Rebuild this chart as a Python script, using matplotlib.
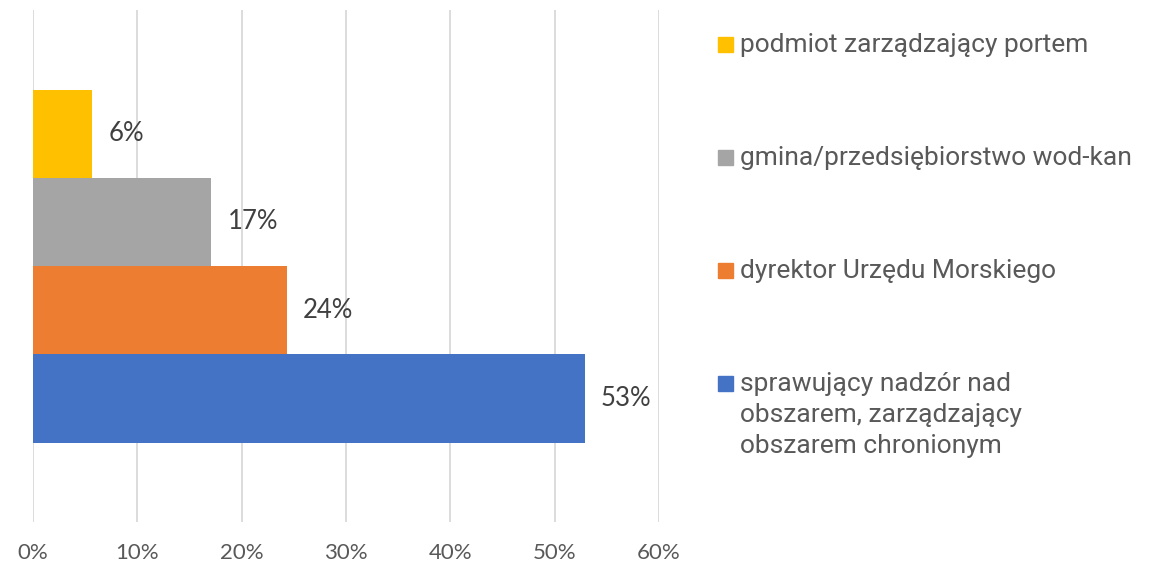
import matplotlib.pyplot as plt
from matplotlib.patches import Rectangle

kategorie = [
    "sprawujący nadzór nad\nobszarem, zarządzający\nobszarem chronionym",
    "dyrektor Urzędu Morskiego",
    "gmina/przedsiębiorstwo wod-kan",
    "podmiot zarządzający portem",
]
wartosci = [52.9, 24.3, 17.1, 5.7]
kolory = ["#4472C4", "#ED7D31", "#A5A5A5", "#FFC000"]
ticki = [0, 10, 20, 30, 40, 50, 60]

W, H = 1158, 563
fig = plt.figure(figsize=(W / 100, H / 100), dpi=100)
ax = fig.add_axes([33 / W, 1 - 522 / H, (659 - 33) / W, (522 - 10) / H])

n = len(wartosci)
grupa = 353 / 512
h = grupa / n
for i, (v, c) in enumerate(zip(wartosci, kolory)):
    y = -grupa / 2 + h * (i + 0.5)
    ax.barh(y, v, height=h, color=c, zorder=2)
    ax.annotate(f"{round(v)}%", (v, y), xytext=(16, 0), textcoords="offset pixels",
                ha="left", va="center", fontsize=18.5, color="#404040", family="Lato")

ax.set_xlim(0, 60)
ax.set_ylim(-0.5, 0.5)
ax.set_xticks(ticki)
ax.set_xticklabels([f"{t}%" for t in ticki], fontsize=16, color="#595959", family="Lato")
ax.tick_params(axis="x", length=0, pad=15)
ax.set_yticks([])
ax.grid(axis="x", color="#D9D9D9", linewidth=1.3, zorder=0)
for s in ax.spines.values():
    s.set_visible(False)

# legenda - kazda linia osobno, zeby trzymac linie bazowe
linie_bazowe = [52, 165, 278, 391]
for lab, c, yb in zip(kategorie[::-1], kolory[::-1], linie_bazowe):
    fig.patches.append(Rectangle((718 / W, 1 - yb / H), 15 / W, 15 / H,
                                 transform=fig.transFigure, color=c))
    for k, linia in enumerate(lab.split("\n")):
        fig.text(740 / W, 1 - (yb + 31 * k) / H, linia, ha="left", va="baseline",
                 fontsize=19, color="#595959", family="Roboto")

fig.savefig("out.png", dpi=100)
